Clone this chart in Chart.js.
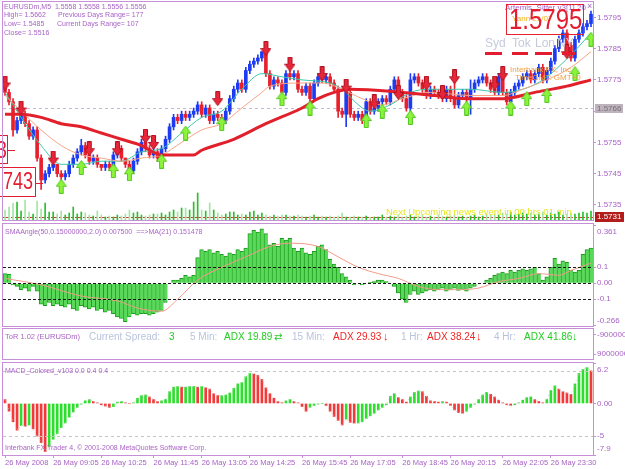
<!DOCTYPE html>
<html lang="en">
<head>
    <meta charset="UTF-8">
    <title>EURUSDm,M5</title>
    <script src="https://cdn.jsdelivr.net/npm/chart.js"></script>
    <style>
        body { margin: 0; background: #ffffff; }
        #wrap { position: relative; width: 625px; height: 469px; overflow: hidden; background: #ffffff; }
        #wrap canvas { position: absolute; left: 0; }
    </style>
</head>
<body>
<div id="wrap">
    <canvas id="mainChart" width="625" height="222" style="top:0px"></canvas>
    <canvas id="smaChart" width="625" height="106" style="top:222px"></canvas>
    <canvas id="torChart" width="625" height="34" style="top:327px"></canvas>
    <canvas id="macdChart" width="625" height="108" style="top:361px"></canvas>
</div>
<script>
    const FONT = '"Liberation Sans", "DejaVu Sans", Arial, sans-serif';
    const TXT = '#a963c6';
    const FRAME = '#c88fd9';
    const PIP = 0.0001;

    // ---- price bars (M5), open of each bar = previous close ----
    const firstOpen = 1.5773;
    const closes = [
        1.5771,1.5768,1.5759,1.5762,1.5764,1.5761,1.5757,1.5759,1.5750,1.5743,
        1.5745,1.5747,1.5748,1.5745,1.5744,1.5745,1.5748,1.5750,1.5752,1.5754,
        1.5751,1.5749,1.5750,1.5748,1.5747,1.5748,1.5747,1.5751,1.5753,1.5750,
        1.5748,1.5746,1.5749,1.5752,1.5755,1.5753,1.5751,1.5752,1.5750,1.5753,
        1.5756,1.5760,1.5763,1.5762,1.5764,1.5763,1.5764,1.5765,1.5767,1.5764,
        1.5766,1.5762,1.5764,1.5763,1.5762,1.5765,1.5769,1.5772,1.5774,1.5772,
        1.5778,1.5780,1.5781,1.5782,1.5784,1.5777,1.5773,1.5775,1.5774,1.5771,
        1.5777,1.5776,1.5777,1.5772,1.5771,1.5773,1.5769,1.5774,1.5776,1.5775,
        1.5776,1.5774,1.5772,1.5765,1.5764,1.5771,1.5764,1.5763,1.5764,1.5762,
        1.5768,1.5765,1.5766,1.5768,1.5769,1.5768,1.5772,1.5775,1.5771,1.5769,
        1.5766,1.5775,1.5776,1.5774,1.5772,1.5770,1.5772,1.5771,1.5770,1.5769,
        1.5772,1.5769,1.5767,1.5770,1.5771,1.5769,1.5772,1.5774,1.5775,1.5776,
        1.5774,1.5772,1.5771,1.5776,1.5771,1.5768,1.5771,1.5773,1.5774,1.5776,
        1.5777,1.5775,1.5777,1.5779,1.5775,1.5778,1.5781,1.5785,1.5788,1.5790,
        1.5786,1.5782,1.5788,1.5790,1.5792,1.5793,1.5796
    ];
    // wick length above / below the body, in pips
    const wickHi = [
        1,1,1,1,1,1,1,1,1,1, 1,1,1,0,1,1,1,1,1,2, 1,1,1,1,0,1,1,1,1,1,
        0,1,1,1,1,1,1,1,1,1, 1,1,1,1,1,1,1,1,1,1, 1,1,1,1,1,1,1,1,1,1,
        1,1,1,1,0,1,1,1,1,1, 1,1,1,1,1,1,1,1,1,1, 1,1,1,1,1,2,1,1,1,1,
        1,1,1,1,1,1,1,1,1,1, 1,2,1,1,1,1,1,1,1,1, 1,1,7,1,1,1,3,1,1,1,
        1,1,1,1,1,1,1,1,1,1, 1,1,1,1,1,1,1,1,1,1, 1,1,1,1,1,1,1
    ];
    const wickLo = [
        1,1,2,1,1,1,1,1,1,3, 1,1,1,1,1,1,1,1,1,1, 1,1,1,1,1,1,1,1,1,1,
        1,1,1,1,1,1,1,1,1,1, 1,1,1,1,1,1,1,1,1,1, 1,1,1,1,1,1,1,1,1,1,
        1,1,1,1,1,1,1,1,1,1, 1,1,1,1,1,1,1,1,1,1, 1,1,1,2,1,4,1,1,1,1,
        1,1,1,1,1,1,1,1,1,1, 1,2,1,1,1,1,1,1,1,1, 1,1,1,1,1,1,5,1,1,1,
        1,1,1,1,1,1,1,1,1,1, 1,1,1,1,1,1,1,1,1,1, 1,1,1,1,1,1,1
    ];
    const volume = [
        10,13,17,18,9,20,8,6,19,11, 17,8,8,6,9,5,7,13,6,8, 7,5,4,9,5,3,4,3,5,4,
        6,10,7,8,5,4,5,6,6,7, 5,8,10,8,12,12,10,18,27,10, 9,17,10,7,5,6,8,8,5,6,
        5,8,9,5,7,5,4,5,4,5, 5,4,4,5,4,3,4,5,3,4, 3,4,3,4,7,3,3,4,3,3,
        4,3,3,3,5,3,4,3,5,3, 4,5,3,4,5,3,4,3,5,4, 3,4,5,3,4,3,4,5,3,4,
        6,5,6,5,7,6,8,5,6,7, 6,7,5,6,8,5,7,6,8,5, 6,7,6,7,8,7,9
    ];
    // moving averages, read as [bar, price]
    const maSlow = [[0,1.5764],[4,1.5764],[9,1.5763],[14,1.5761],[19,1.5760],[24,1.5758],[29,1.5756],[34,1.5754],
        [39,1.5751],[47,1.5751],[49,1.57525],[57,1.5756],[65,1.5761],[74,1.5766],[78,1.5769],[82,1.5771],[86,1.5772],
        [99,1.5771],[107,1.5770],[115,1.5769],[124,1.5769],[132,1.5771],[140,1.5773],[146,1.5775]];
    const maMid = [[0,1.5770],[4,1.5765],[9,1.5759],[14,1.5754],[19,1.5751],[24,1.5750],[29,1.5749],[34,1.5750],
        [39,1.5751],[44,1.5755],[49,1.5759],[54,1.5761],[59,1.5766],[64,1.5771],[66,1.5773],[74,1.5774],[79,1.5774],
        [84,1.5772],[89,1.5769],[94,1.5767],[99,1.5769],[106,1.5771],[116,1.5770],[124,1.5770],[129,1.5772],
        [135,1.5775],[141,1.5779],[146,1.5784]];
    const maFast = [[0,1.5771],[4,1.5763],[9,1.5754],[14,1.5748],[19,1.5748],[24,1.5749],[29,1.5749],[34,1.5752],
        [39,1.5753],[44,1.5758],[49,1.5763],[54,1.5765],[59,1.5772],[64,1.5777],[69,1.5776],[74,1.5775],[81,1.5774],
        [84,1.5772],[89,1.5766],[91,1.5765],[96,1.5767],[101,1.5771],[106,1.5772],[116,1.5772],[124,1.5771],
        [129,1.5772],[134,1.5775],[141,1.5783],[146,1.5790]];
    // signal arrows [bar, price]
    const sellArrows = [[0,1.5774],[4,1.5766],[12,1.5750],[21,1.5753],[28,1.5753],[35,1.5757],[37,1.5755],[53,1.5769],
        [65,1.5785],[71,1.5780],[79,1.5777],[85,1.5773],[92,1.5768],[98,1.5771],[105,1.5774],[109,1.5771],
        [112,1.5776],[122,1.5774],[124,1.5777],[140,1.5784]];
    const buyArrows = [[14,1.5741],[19,1.5747],[27,1.5746],[31,1.5745],[39,1.5749],[45,1.5758],[54,1.5761],[69,1.5769],
        [76,1.5766],[90,1.5762],[94,1.5765],[101,1.5763],[115,1.5766],[126,1.5766],[130,1.5769],[135,1.5770],
        [142,1.5777],[146,1.5788]];
    const bidLevel = 1.5766;
    const alertLevel = 1.5731;
    const priceTicks = [1.5795, 1.5785, 1.5775, 1.5765, 1.5755, 1.5745, 1.5735];
    const priceLabels = ['1.5795', '1.5785', '1.5775', '1.5765', '1.5755', '1.5745', '1.5735'];

    // ---- SMAAngle histogram and its MA(21) ----
    const smaAngle = [
        0.06,0.055,-0.01,-0.02,-0.04,-0.03,-0.05,-0.02,-0.05,-0.13,
        -0.14,-0.12,-0.14,-0.13,-0.14,-0.15,-0.13,-0.16,-0.17,-0.14,
        -0.15,-0.16,-0.15,-0.17,-0.16,-0.18,-0.17,-0.19,-0.21,-0.22,
        -0.24,-0.21,-0.19,-0.2,-0.19,-0.19,-0.2,-0.19,-0.18,-0.17,
        -0.12,0.0,0.02,0.02,0.03,0.05,0.04,0.05,0.16,0.21,
        0.2,0.21,0.19,0.2,0.18,0.17,0.19,0.18,0.21,0.2,
        0.22,0.31,0.33,0.32,0.34,0.31,0.24,0.25,0.23,0.28,
        0.27,0.28,0.22,0.2,0.22,0.19,0.18,0.2,0.23,0.24,
        0.21,0.15,0.12,0.1,0.06,0.04,0.02,-0.01,0.0,-0.01,
        0.0,0.005,0.01,0.02,0.02,0.01,0.0,-0.02,-0.06,-0.1,
        -0.12,-0.07,-0.05,-0.07,-0.06,-0.05,-0.04,-0.05,-0.04,-0.03,
        -0.05,-0.04,-0.03,-0.045,-0.04,-0.05,-0.03,-0.02,0.0,0.0,
        0.02,0.03,0.05,0.06,0.07,0.06,0.08,0.07,0.08,0.09,
        0.08,0.09,0.1,0.06,0.02,0.04,0.1,0.155,0.12,0.14,
        0.13,0.08,0.07,0.08,0.18,0.21,0.22
    ];
    const smaMA = [[0,0.03],[9,-0.01],[19,-0.08],[28,-0.11],[33,-0.155],[39,-0.175],[43,-0.1],[48,0.02],[54,0.1],
        [60,0.165],[66,0.23],[71,0.25],[78,0.23],[83,0.165],[88,0.1],[93,0.06],[98,0.03],[103,-0.02],[108,-0.04],
        [113,-0.04],[118,-0.03],[123,0.01],[128,0.03],[133,0.06],[138,0.05],[141,0.08],[146,0.125]];
    const smaLevels = [0.1, 0, -0.1];
    const smaTicks = [0.361, 0.1, 0, -0.1, -0.266];
    const smaLabels = [['', '0.361'], '0.1', '0.00', '-0.1', ['-0.266', '']];

    // ---- MACD colored histogram ----
    const macd = [
        0.6,-1.2,-2.8,-4.1,-3.4,-3.5,-3.3,-3.9,-5.0,-6.0,
        -7.4,-6.6,-5.5,-4.6,-3.7,-3.0,-2.1,-1.3,-0.6,-0.1,
        0.4,0.6,0.3,0.1,-0.2,-0.4,-0.6,-0.5,0.2,0.3,
        0.1,0.0,0.1,0.8,1.2,1.3,1.0,0.6,0.3,0.4,
        0.6,1.8,2.5,2.6,2.5,2.5,2.6,2.6,2.5,2.6,
        2.4,2.2,1.5,1.2,1.2,1.3,1.6,2.3,3.0,3.2,
        4.1,4.6,4.5,4.3,3.7,2.4,1.5,0.8,0.3,0.1,
        0.4,0.6,0.3,0.1,-0.5,-1.2,-0.6,-0.3,-0.1,0.0,
        -0.3,-1.2,-2.0,-2.6,-3.3,-2.4,-2.9,-3.0,-3.0,-2.8,
        -2.3,-1.9,-1.5,-1.0,-0.6,-0.2,1.1,1.5,0.9,0.6,
        0.2,1.0,1.7,1.9,1.8,1.1,0.4,0.3,0.2,0.3,
        0.2,-0.3,-1.0,-1.4,-1.5,-1.2,-0.6,-0.1,0.6,1.3,
        1.7,1.4,1.0,0.5,0.1,-0.2,-0.3,-0.2,0.1,0.5,
        0.9,1.0,0.6,0.3,0.1,0.6,2.0,2.7,2.2,1.8,
        1.6,1.4,3.0,4.6,5.2,5.5,5.0
    ];
    const macdLevels = [5, -5];
    const macdTicks = [6.2, 0, -5, -7.9];
    const macdLabels = [['', '6.2'], '0.00', '-5', ['-7.9', '']];

    // ---- ToR panel scale ----
    const torTicks = [-9000000, 9000000];
    const torLabels = ['-9000000', '9000000'];

    // ---- time axis ----
    const timeIdx = [0, 12, 24, 37, 49, 61, 74, 86, 99, 111, 124, 136];
    const timeLabels = ['26 May 2008', '26 May 09:05', '26 May 10:25', '26 May 11:45', '26 May 13:05', '26 May 14:25',
        '26 May 15:45', '26 May 17:05', '26 May 18:45', '26 May 20:15', '26 May 22:05', '26 May 23:30'];

    const N = closes.length;
    const opens = closes.map((c, i) => i === 0 ? firstOpen : closes[i - 1]);
    const isUp = closes.map((c, i) => c >= opens[i]);
    const pairs = arr => arr.map(p => ({ x: p[0], y: p[1] }));

    function makeArrow(down, fill, edge) {
        const c = document.createElement('canvas');
        c.width = 11; c.height = 15;
        const g = c.getContext('2d');
        const pts = down
            ? [[3.5,0.5],[7.5,0.5],[7.5,7.5],[10.5,7.5],[5.5,14.5],[0.5,7.5],[3.5,7.5]]
            : [[5.5,0.5],[10.5,7.5],[7.5,7.5],[7.5,14.5],[3.5,14.5],[3.5,7.5],[0.5,7.5]];
        g.beginPath();
        pts.forEach((p, k) => k ? g.lineTo(p[0], p[1]) : g.moveTo(p[0], p[1]));
        g.closePath();
        g.fillStyle = fill; g.fill();
        g.strokeStyle = edge; g.lineWidth = 1; g.stroke();
        return c;
    }
    const redArrow = makeArrow(true, '#e8263a', '#b0101e');
    const greenArrow = makeArrow(false, '#8cf23c', '#52c81e');

    function text(ctx, s, x, y, color, size, opt) {
        opt = opt || {};
        ctx.font = size + 'px ' + (opt.family || FONT);
        ctx.fillStyle = color;
        ctx.textAlign = opt.align || 'left';
        ctx.textBaseline = 'middle';
        ctx.save();
        ctx.translate(x, y);
        ctx.scale(opt.sx || 1, 1);
        ctx.fillText(s, 0, 0);
        ctx.restore();
    }
    function hline(ctx, a, y, color, dash, w) {
        ctx.save();
        ctx.strokeStyle = color; ctx.lineWidth = w || 1; ctx.setLineDash(dash);
        ctx.beginPath(); ctx.moveTo(a.left, Math.round(y) + 0.5); ctx.lineTo(a.right, Math.round(y) + 0.5); ctx.stroke();
        ctx.restore();
    }
    function frame(ctx, a) {
        ctx.strokeStyle = FRAME; ctx.lineWidth = 1; ctx.setLineDash([]);
        ctx.strokeRect(a.left - 0.5, a.top - 0.5, a.right - a.left + 1, a.bottom - a.top + 1);
    }

    function timeAxis(show) {
        return {
            type: 'linear', min: -0.5, max: N - 0.5, offset: false, bounds: 'data', display: show,
            afterFit: s => { s.height = show ? 12 : 0; s.paddingLeft = 0; s.paddingRight = 0; },
            afterBuildTicks: s => { s.ticks = timeIdx.map(v => ({ value: v })); },
            grid: { drawOnChartArea: false, drawTicks: true, tickLength: 3, color: FRAME, offset: false },
            border: { display: false },
            ticks: {
                autoSkip: false, maxRotation: 0, minRotation: 0, align: 'start', padding: 0, color: TXT,
                font: { family: FONT, size: 7.5 },
                callback: (v, i) => timeLabels[i]
            }
        };
    }
    function rightAxis(min, max, values, labels, lineHeights, extra) {
        return Object.assign({
            position: 'right', min: min, max: max, bounds: 'data',
            // fixed label column; labels may overhang the panel edges
            afterFit: s => { s.width = 32; s.paddingTop = 0; s.paddingBottom = 0; },
            afterBuildTicks: s => { s.ticks = values.map(v => ({ value: v })); },
            grid: { drawOnChartArea: false, drawTicks: true, tickLength: 3, color: FRAME },
            border: { display: false },
            ticks: {
                autoSkip: false, padding: 1, color: TXT,
                font: c => ({ family: FONT, size: 8, lineHeight: (lineHeights[c.index] || 10) + 'px' }),
                callback: (v, i) => labels[i]
            }
        }, extra || {});
    }
    function baseOptions(padding, scales) {
        return {
            responsive: false, animation: false, devicePixelRatio: 1, events: [],
            layout: { padding: padding, autoPadding: false },
            plugins: { legend: { display: false }, tooltip: { enabled: false } },
            scales: scales
        };
    }

    // ---------------- main price panel ----------------
    const bodyColors = isUp.map(u => u ? '#1d3cf2' : '#e8202e');
    new Chart(document.getElementById('mainChart'), {
        type: 'bar',
        data: {
            datasets: [
                { type: 'line', data: pairs(sellArrows), showLine: false, pointStyle: redArrow, pointRadius: 6, order: 0 },
                { type: 'line', data: pairs(buyArrows), showLine: false, pointStyle: greenArrow, pointRadius: 6, order: 0 },
                { type: 'line', data: pairs(maSlow), borderColor: '#e2202c', borderWidth: 3, pointRadius: 0, cubicInterpolationMode: 'monotone', order: 1 },
                { type: 'line', data: pairs(maMid), borderColor: '#f5a486', borderWidth: 1, pointRadius: 0, cubicInterpolationMode: 'monotone', order: 2 },
                { type: 'line', data: pairs(maFast), borderColor: '#3cc8aa', borderWidth: 1, pointRadius: 0, cubicInterpolationMode: 'monotone', order: 3 },
                { data: closes.map((c, i) => ({ x: i, y: [opens[i], c] })), backgroundColor: bodyColors,
                  barThickness: 3, grouped: false, minBarLength: 1, order: 4 },
                { data: closes.map((c, i) => ({ x: i, y: [Math.min(opens[i], c) - wickLo[i] * PIP, Math.max(opens[i], c) + wickHi[i] * PIP] })),
                  backgroundColor: bodyColors, barThickness: 1, grouped: false, order: 5 },
                { data: volume.map((v, i) => ({ x: i, y: v })), yAxisID: 'yv',
                  backgroundColor: isUp.map(u => u ? '#2cbf2c' : '#a2e6a2'), barThickness: 1, grouped: false, order: 6 }
            ]
        },
        options: baseOptions({ left: 3, top: 2, bottom: 2, right: 0 }, {
            x: timeAxis(false),
            y: rightAxis(1.57302, 1.57999, priceTicks, priceLabels, []),
            yv: { display: false, min: 0, max: 218 }
        }),
        plugins: [{
            id: 'mainOverlay',
            beforeDatasetsDraw(chart) {
                const a = chart.chartArea, y = chart.scales.y, ctx = chart.ctx;
                hline(ctx, a, y.getPixelForValue(bidLevel), '#c9b6cf', [3, 3]);
                hline(ctx, a, y.getPixelForValue(alertLevel), '#d23a3a', [6, 2, 2, 2]);
            },
            afterDraw(chart) {
                const ctx = chart.ctx, a = chart.chartArea, y = chart.scales.y;
                ctx.save();
                // info block
                text(ctx, 'EURUSDm,M5  1.5558 1.5558 1.5556 1.5556', 4, 7, TXT, 7);
                text(ctx, 'High= 1.5662', 4, 15.5, TXT, 7);
                text(ctx, 'Previous Days Range= 177', 58, 15.5, TXT, 7);
                text(ctx, 'Low= 1.5485', 4, 24.5, TXT, 7);
                text(ctx, 'Current Days Range= 107', 57, 24.5, TXT, 7);
                text(ctx, 'Close= 1.5516', 4, 33.5, TXT, 7);
                // Artemis / big price box
                text(ctx, 'Artemis_Sitter v3[1].20', 505, 7.5, TXT, 8);
                text(ctx, '\u00d7', 587, 7, TXT, 9);
                text(ctx, 'Yann 21/07', 512, 19, '#f0b020', 8);
                ctx.strokeStyle = '#e8202e'; ctx.lineWidth = 1;
                ctx.strokeRect(506.5, 4.5, 77, 30);
                text(ctx, '1.5795', 509, 21, '#e41c30', 30, { sx: 0.8 });
                // sessions
                [['Syd', 485], ['Tok', 512], ['Lon', 535], ['NY', 557]].forEach(s => text(ctx, s[0], s[1], 44, '#c6cadc', 12));
                ctx.fillStyle = '#e41c30';
                [[485, 502], [512, 528], [535, 552], [562, 575]].forEach(d => ctx.fillRect(d[0], 52, d[1] - d[0], 3));
                text(ctx, 'Interbank FX, Inc', 510, 70, '#f0a040', 8);
                text(ctx, 'TimeGMT: GMT+0', 515, 78, '#f0a040', 8);
                // clipped price boxes on the left
                ctx.strokeStyle = '#e41c30';
                ctx.strokeRect(-2.5, 135.5, 10, 28);
                text(ctx, '3', 7, 151, '#e41c30', 24, { align: 'right', sx: 0.8 });
                ctx.beginPath(); ctx.moveTo(8, 150.5); ctx.lineTo(15, 150.5); ctx.stroke();
                ctx.strokeRect(-2.5, 167.5, 38, 29);
                text(ctx, '743', 3, 182, '#e41c30', 24, { sx: 0.75 });
                ctx.beginPath(); ctx.moveTo(36, 183.5); ctx.lineTo(43, 183.5); ctx.stroke();
                // news line
                text(ctx, 'Next Upcoming news event in 00 hrs 01 min', 386, 212, '#e6e61e', 9.5);
                frame(ctx, a);
                // right-side price labels
                const yb = Math.round(y.getPixelForValue(bidLevel));
                ctx.fillStyle = '#bdb3bd'; ctx.fillRect(595, yb - 4, 28, 9);
                text(ctx, '1.5766', 597, yb + 0.5, '#7a707a', 8);
                const ya = Math.round(y.getPixelForValue(alertLevel));
                ctx.fillStyle = '#b41c1c'; ctx.fillRect(595, ya - 5, 29, 10);
                text(ctx, '1.5731', 597, ya, '#ffffff', 8);
                ctx.restore();
            }
        }]
    });

    // ---------------- SMAAngle panel ----------------
    new Chart(document.getElementById('smaChart'), {
        type: 'bar',
        data: {
            datasets: [
                { type: 'line', data: pairs(smaMA), borderColor: '#f29a88', borderWidth: 1, pointRadius: 0, cubicInterpolationMode: 'monotone', order: 0 },
                { data: smaAngle.map((v, i) => ({ x: i, y: v })), backgroundColor: '#5ad85a', borderColor: '#1c9c1c',
                  borderWidth: { left: 1, right: 0, top: 1, bottom: 1 }, barThickness: 4, grouped: false, order: 1 }
            ]
        },
        options: baseOptions({ left: 3, top: 2, bottom: 2, right: 0 }, {
            x: timeAxis(false),
            y: rightAxis(-0.267, 0.37, smaTicks, smaLabels, [12, 10, 10, 10, 10])
        }),
        plugins: [{
            id: 'smaOverlay',
            afterDraw(chart) {
                const ctx = chart.ctx, a = chart.chartArea, y = chart.scales.y;
                ctx.save();
                smaLevels.forEach(v => hline(ctx, a, y.getPixelForValue(v), '#1a1a1a', [3, 2]));
                text(ctx, 'SMAAngle(50,0.15000000,2.0) 0.007500  ==>MA(21) 0.151478', 5, 10, TXT, 7);
                frame(ctx, a);
                ctx.restore();
            }
        }]
    });

    // ---------------- ToR panel ----------------
    new Chart(document.getElementById('torChart'), {
        type: 'bar',
        data: { datasets: [] },
        options: baseOptions({ left: 3, top: 2, bottom: 2, right: 0 }, {
            x: timeAxis(false),
            y: rightAxis(-14400000, 13500000, torTicks, torLabels, [], { reverse: true })
        }),
        plugins: [{
            id: 'torOverlay',
            afterDraw(chart) {
                const ctx = chart.ctx, a = chart.chartArea;
                ctx.save();
                const ty = 10;
                const grey = '#b9c3db', green = '#22cc22', red = '#f02424';
                text(ctx, 'ToR 1.02 (EURUSDm)', 5, ty, TXT, 7.5);
                text(ctx, 'Current Spread:', 89, ty, grey, 10);
                text(ctx, '3', 169, ty, green, 10);
                text(ctx, '5 Min:', 190, ty, grey, 10);
                text(ctx, 'ADX 19.89', 224, ty, green, 10);
                text(ctx, '\u21c4', 274, ty, green, 10);
                text(ctx, '15 Min:', 292, ty, grey, 10);
                text(ctx, 'ADX 29.93', 333, ty, red, 10);
                text(ctx, '\u2193', 383, ty, red, 11);
                text(ctx, '1 Hr:', 401, ty, grey, 10);
                text(ctx, 'ADX 38.24', 427, ty, red, 10);
                text(ctx, '\u2193', 476, ty, red, 11);
                text(ctx, '4 Hr:', 494, ty, grey, 10);
                text(ctx, 'ADX 41.86', 524, ty, green, 10);
                text(ctx, '\u2193', 572, ty, green, 11);
                frame(ctx, a);
                ctx.restore();
            }
        }]
    });

    // ---------------- MACD panel ----------------
    const macdColors = macd.map((v, i) => (i > 0 && v >= macd[i - 1]) ? '#2ede2e' : '#f23a3a');
    new Chart(document.getElementById('macdChart'), {
        type: 'bar',
        data: {
            datasets: [
                { type: 'line', data: macd.map((v, i) => ({ x: i, y: v })), borderColor: '#cfcfcf', borderWidth: 1,
                  borderDash: [1, 2], pointRadius: 0, order: 0 },
                { data: macd.map((v, i) => ({ x: i, y: v })), backgroundColor: macdColors, barThickness: 2, grouped: false, order: 1 }
            ]
        },
        options: baseOptions({ left: 3, top: 2, bottom: 2, right: 0 }, {
            x: timeAxis(true),
            y: rightAxis(-7.9, 6.2, macdTicks, macdLabels, [14, 10, 10, 12])
        }),
        plugins: [{
            id: 'macdOverlay',
            afterDraw(chart) {
                const ctx = chart.ctx, a = chart.chartArea, y = chart.scales.y;
                ctx.save();
                macdLevels.forEach(v => hline(ctx, a, y.getPixelForValue(v), '#c4c4c4', [3, 3]));
                text(ctx, 'MACD_Colored_v103 0.0 0.4 0.4', 5, 10, TXT, 7);
                text(ctx, 'Interbank FX Trader 4, \u00a9 2001-2008 MetaQuotes Software Corp.', 5, 87, TXT, 7);
                frame(ctx, a);
                ctx.restore();
            }
        }]
    });
</script>
</body>
</html>
